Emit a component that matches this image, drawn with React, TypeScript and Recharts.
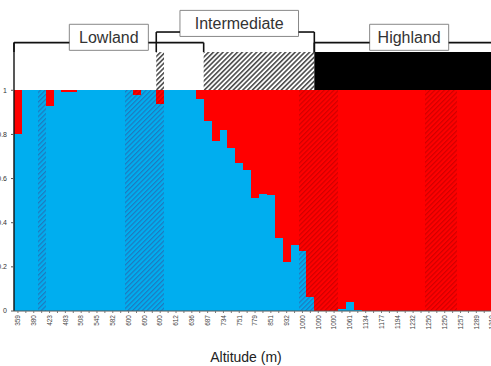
import React from 'react';
import { BarChart, Bar, XAxis, YAxis, Cell, ReferenceLine, ReferenceArea } from 'recharts';

// Altitude labels shown under every other bar (even bars)
const altitudeTicks = ['359','380','423','483','508','545','582','600','600','600','612','636','687','734','751','779','851','932','1000','1000','1000','1061','1134','1177','1194','1232','1250','1250','1257','1289','1310'];

// Share of the blue cluster for each individual bar (red = 1 - blue)
const blueShare = [
  0.80, 1, 1, 1, 0.93, 1, 0.99, 0.99, 1, 1,
  1, 1, 1, 1, 1, 0.98, 1, 1, 0.94, 1,
  1, 1, 1, 0.96, 0.86, 0.77, 0.82, 0.74, 0.67, 0.64,
  0.51, 0.53, 0.525, 0.33, 0.22, 0.30, 0.27, 0.065, 0, 0,
  0, 0.01, 0.042, 0.005, 0, 0, 0, 0, 0, 0,
  0, 0, 0, 0, 0, 0, 0, 0, 0, 0,
  0, 0,
];

// Bars drawn with hatching
const hatchedBars = [3, 14, 15, 16, 17, 18, 36, 37, 38, 39, 40, 52, 53, 54, 55];

// Top band runs
const bandStart = [0, 18, 19, 24, 38];
const bandEnd = [17, 18, 23, 37, 61];
const bandKind = ['white', 'hatch', 'white', 'hatch', 'black'];

// Regions (brackets)
const regionNames = ['Lowland', 'Intermediate', 'Highland'];
const regionFrom = [0, 18, 38];
const regionTo = [24, 38, 61];
const regionLevel = ['low', 'high', 'low'];
const regionBoxFrom = [7, 21, 45];
const regionBoxTo = [16, 35, 54];

const BLUE = '#00AEEF';
const RED = '#FF0000';
const Y_BAND = 1.173;
const Y_LOW = 1.216;
const Y_HIGH = 1.264;
const BOX = { low: [1.181, 1.299], high: [1.244, 1.362] } as Record<string, number[]>;

const rows = blueShare.map((b, i) => ({ id: `b${i}`, blue: b, red: +(1 - b).toFixed(4) }));
const hatchSet = new Set(hatchedBars);
const id = (i: number) => `b${i}`;

const XTick = (props: any) => {
  const { x, y, payload } = props;
  const idx = parseInt(String(payload.value).slice(1), 10);
  if (idx % 2 !== 0) return <g />;
  const lbl = altitudeTicks[idx / 2] ?? '';
  return (
    <text x={x} y={y} transform={`rotate(-90 ${x} ${y})`} textAnchor="end" dy="0.35em" fontSize={6.5} fill="#444">
      {lbl}
    </text>
  );
};

export default function App() {
  const lineProps = { stroke: '#111', strokeWidth: 1.6, position: 'start' as const, ifOverflow: 'visible' as const };
  const brackets: React.ReactNode[] = [];
  regionNames.forEach((name, r) => {
    const yL = regionLevel[r] === 'low' ? Y_LOW : Y_HIGH;
    const a = regionFrom[r], b = regionTo[r];
    brackets.push(<ReferenceLine key={`h1${r}`} {...lineProps} segment={[{ x: id(a), y: yL }, { x: id(regionBoxFrom[r]), y: yL }]} />);
    brackets.push(<ReferenceLine key={`h2${r}`} {...lineProps} segment={[{ x: id(regionBoxTo[r] + 1), y: yL }, { x: id(b), y: yL }]} />);
    brackets.push(<ReferenceLine key={`v1${r}`} {...lineProps} segment={[{ x: id(a), y: yL }, { x: id(a), y: Y_BAND }]} />);
    if (b < 61) brackets.push(<ReferenceLine key={`v2${r}`} {...lineProps} segment={[{ x: id(b), y: yL }, { x: id(b), y: Y_BAND }]} />);
  });

  return (
    <div style={{ position: 'absolute', left: 0, top: 0, width: 491, height: 366, overflow: 'hidden', background: '#fff', fontFamily: '"Liberation Sans", Arial, sans-serif' }}>
      <BarChart width={504} height={366} data={rows} margin={{ top: 2, right: 0, bottom: 0, left: 0 }} barCategoryGap={0} barGap={0}>
        <defs>
          <pattern id="hatchBlue" patternUnits="userSpaceOnUse" width="3.4" height="3.4" patternTransform="rotate(45)">
            <rect width="3.4" height="3.4" fill={BLUE} />
            <line x1="0.6" y1="0" x2="0.6" y2="3.4" stroke="#1F78BE" strokeWidth="1.2" />
          </pattern>
          <pattern id="hatchRed" patternUnits="userSpaceOnUse" width="3.4" height="3.4" patternTransform="rotate(45)">
            <rect width="3.4" height="3.4" fill={RED} />
            <line x1="0.6" y1="0" x2="0.6" y2="3.4" stroke="#D00000" strokeWidth="1.2" />
          </pattern>
          <pattern id="hatchBand" patternUnits="userSpaceOnUse" width="3.4" height="3.4" patternTransform="rotate(45)">
            <rect width="3.4" height="3.4" fill="#fff" />
            <line x1="0.8" y1="0" x2="0.8" y2="3.4" stroke="#333" strokeWidth="1.4" />
          </pattern>
        </defs>
        <XAxis
          dataKey="id"
          interval={0}
          tick={<XTick />}
          tickSize={2}
          tickMargin={2}
          tickLine={{ stroke: '#777' }}
          axisLine={{ stroke: '#555' }}
          height={55}
          label={{ value: 'Altitude (m)', position: 'insideBottom', offset: 4, dx: -13, fontSize: 14, fill: '#222' }}
        />
        <YAxis
          type="number"
          domain={[0, 1.4]}
          allowDataOverflow
          ticks={[0, 0.2, 0.4, 0.6, 0.8, 1]}
          width={14}
          tickSize={3}
          tickMargin={4}
          axisLine={false}
          tickLine={{ stroke: '#555' }}
          tick={{ fontSize: 7, fill: '#333' }}
        />
        <Bar dataKey="blue" stackId="s" isAnimationActive={false}>
          {rows.map((r, i) => (
            <Cell key={r.id} fill={hatchSet.has(i) ? 'url(#hatchBlue)' : BLUE} shapeRendering="crispEdges" />
          ))}
        </Bar>
        <Bar dataKey="red" stackId="s" isAnimationActive={false}>
          {rows.map((r, i) => (
            <Cell key={r.id} fill={hatchSet.has(i) ? 'url(#hatchRed)' : RED} shapeRendering="crispEdges" />
          ))}
        </Bar>
        {bandStart.map((s, k) => (
          <ReferenceArea
            key={`band${k}`}
            x1={id(s)}
            x2={id(bandEnd[k])}
            y1={1}
            y2={Y_BAND}
            fill={bandKind[k] === 'black' ? '#000' : bandKind[k] === 'hatch' ? 'url(#hatchBand)' : '#fff'}
            fillOpacity={1}
            stroke="none"
            ifOverflow="visible"
          />
        ))}
        {regionNames.map((name, r) => (
          <ReferenceArea
            key={`box${r}`}
            x1={id(regionBoxFrom[r])}
            x2={id(regionBoxTo[r])}
            y1={BOX[regionLevel[r]][0]}
            y2={BOX[regionLevel[r]][1]}
            fill="#fff"
            fillOpacity={1}
            stroke="#888"
            strokeWidth={1}
            ifOverflow="visible"
            label={{ value: name, position: 'center', fontSize: 16, fill: '#333' }}
          />
        ))}
        <ReferenceLine {...lineProps} strokeWidth={1.4} segment={[{ x: id(0), y: 0 }, { x: id(0), y: Y_LOW }]} />
        {brackets}
      </BarChart>
    </div>
  );
}
